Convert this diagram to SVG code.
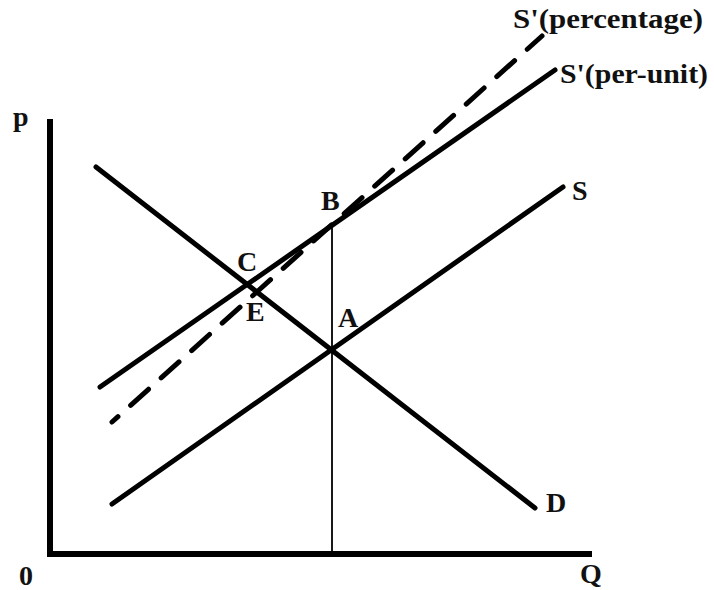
<svg xmlns="http://www.w3.org/2000/svg" width="714" height="590" viewBox="0 0 714 590">
<style>
.lbl{font-family:"Liberation Serif","Times New Roman",serif;font-weight:bold;font-size:28px;fill:#111}
.crv{stroke:#000;stroke-width:5;fill:none;stroke-linecap:round}
.ax{stroke:#000;stroke-width:6;fill:none;stroke-linejoin:miter}
</style>
<rect width="714" height="590" fill="#fff"/>
<g id="axes">
<path class="ax" d="M50,119 V554 H592"/>
<text class="lbl" x="13" y="126">p</text>
<text class="lbl" x="19" y="585">0</text>
<text class="lbl" x="580" y="583">Q</text>
</g>
<g id="connectors">
<line id="guide" x1="332" y1="225" x2="332" y2="554" stroke="#000" stroke-width="1.8"/>
<line id="curve-D" class="crv" x1="96" y1="167" x2="535" y2="508"/>
<line id="curve-S" class="crv" x1="112" y1="504" x2="563" y2="187"/>
<line id="curve-S-per-unit" class="crv" x1="100" y1="387" x2="555" y2="70"/>
<line id="curve-S-percentage" class="crv" x1="112" y1="422" x2="542" y2="36" stroke-dasharray="24 17" stroke-dashoffset="16" stroke-linecap="butt"/>
</g>
<g id="label-S"><text class="lbl" x="572" y="200">S</text></g>
<g id="label-D"><text class="lbl" x="546" y="512">D</text></g>
<g id="label-A"><text class="lbl" x="338" y="327">A</text></g>
<g id="label-B"><text class="lbl" x="321" y="210">B</text></g>
<g id="label-C"><text class="lbl" x="237" y="271">C</text></g>
<g id="label-E"><text class="lbl" x="246" y="321">E</text></g>
<g id="label-S-percentage"><text class="lbl" x="513" y="28" textLength="190" lengthAdjust="spacingAndGlyphs">S'(percentage)</text></g>
<g id="label-S-per-unit"><text class="lbl" x="560" y="83" textLength="148" lengthAdjust="spacingAndGlyphs">S'(per-unit)</text></g>
</svg>
